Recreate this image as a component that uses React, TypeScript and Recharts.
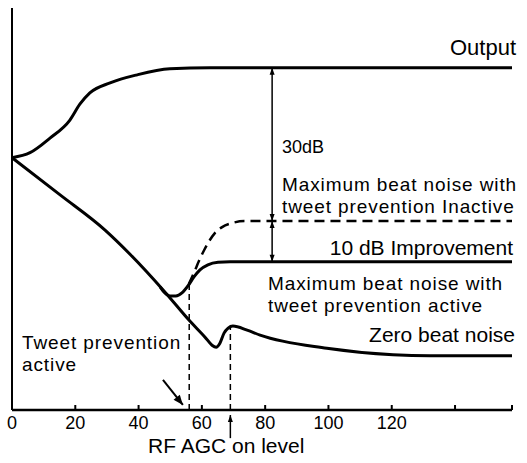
import { LineChart, Line, XAxis, YAxis, ReferenceLine } from "recharts"

// x = RF input level, y = relative level (dB)
const xTicks = [0, 20, 40, 60, 80, 100, 120, 140, 158]
const lastLabeledTick = 120

const outputX = [0, 5.7, 12, 18.3, 21.5, 24.6, 31, 39.5, 49.9, 62.6, 158]
const outputY = [50.2, 51.2, 54.1, 57.7, 60.9, 63.1, 65.1, 66.7, 67.9, 68.1, 68.1]

const zeroBeatX = [0, 15.2, 29.4, 37.3, 48.3, 56.2, 61, 63.2, 64.5, 65.7, 67, 68.3, 69.8, 74.3, 78.4, 99.5, 120.4, 132.1, 158]
const zeroBeatY = [50.2, 42.8, 35.8, 31, 23.5, 17.7, 14.5, 12.9, 12.5, 13.3, 15.3, 16.3, 16.7, 15.9, 14.9, 12.3, 11, 10.8, 10.8]

const activeX = [46.8, 48.3, 49.9, 51.8, 53.7, 55.6, 57.5, 59.4, 61.9, 65.1, 68.9, 158]
const activeY = [24.5, 23.3, 22.7, 22.7, 23.3, 24.7, 26.5, 27.9, 28.9, 29.4, 29.5, 29.5]

const inactiveX = [55.9, 57.5, 59.1, 60.7, 62.3, 64.1, 66.4, 69.5, 73.6, 158]
const inactiveY = [25.1, 27.3, 29.7, 31.8, 33.6, 35.2, 36.4, 37.2, 37.6, 37.6]

const tweetX = 56
const tweetTop = 25
const agcX = 69
const agcTop = 16.6
const measureX = 82.2
const outputLevel = 68.1
const inactiveLevel = 37.6
const activeLevel = 29.5

const toPoints = (xs: number[], ys: number[]) => xs.map((x, i) => ({ x, y: ys[i] }))

const outputData = toPoints(outputX, outputY)
const zeroBeatData = toPoints(zeroBeatX, zeroBeatY)
const activeData = toPoints(activeX, activeY)
const inactiveData = toPoints(inactiveX, inactiveY)

const font = "'Liberation Sans', Arial, Helvetica, sans-serif"

function head(x1: number, y1: number, x2: number, y2: number, len: number, half: number) {
  const dx = x2 - x1
  const dy = y2 - y1
  const d = Math.sqrt(dx * dx + dy * dy) || 1
  const ux = dx / d
  const uy = dy / d
  const bx = x2 - ux * len
  const by = y2 - uy * len
  return `${x2},${y2} ${bx - uy * half},${by + ux * half} ${bx + uy * half},${by - ux * half}`
}

const arrowShape = (both: boolean, len: number, half: number, width: number) => (p: any) => (
  <g>
    <line x1={p.x1} y1={p.y1} x2={p.x2} y2={p.y2} stroke="#000" strokeWidth={width} />
    <polygon points={head(p.x1, p.y1, p.x2, p.y2, len, half)} fill="#000" />
    {both && <polygon points={head(p.x2, p.y2, p.x1, p.y1, len, half)} fill="#000" />}
  </g>
)

const XTick = (props: any) => {
  const { x, y, payload } = props
  return (
    <g>
      <line x1={x} x2={x} y1={y} y2={y - 5} stroke="#000" strokeWidth={2} />
      {payload.value <= lastLabeledTick && (
        <text x={x} y={y + 19} textAnchor="middle" fontSize={18} fontFamily={font} fill="#000">
          {payload.value}
        </text>
      )}
    </g>
  )
}

const labelStyle = { fontFamily: font, fontSize: 21, fill: "#000" }
const smallLabel = { fontFamily: font, fontSize: 19, letterSpacing: 0.9, fill: "#000" }

export default function App() {
  return (
    <div style={{ position: "absolute", left: 0, top: 0, width: 527, height: 463, background: "#fff" }}>
      <LineChart width={527} height={463} margin={{ top: 8, right: 15, bottom: 13, left: 11 }}>
        <XAxis
          type="number"
          dataKey="x"
          domain={[0, 158]}
          ticks={xTicks}
          tickSize={0}
          tickMargin={0}
          tickLine={false}
          tick={<XTick />}
          height={40}
          axisLine={{ stroke: "#000", strokeWidth: 2.5 }}
          interval={0}
        />
        <YAxis
          type="number"
          dataKey="y"
          domain={[0, 80]}
          width={1}
          tick={false}
          tickLine={false}
          axisLine={{ stroke: "#000", strokeWidth: 2 }}
        />
        <ReferenceLine segment={[{ x: tweetX, y: 0 }, { x: tweetX, y: tweetTop }]} stroke="#000" strokeWidth={1.5} strokeDasharray="6 4" />
        <ReferenceLine segment={[{ x: agcX, y: 0 }, { x: agcX, y: agcTop }]} stroke="#000" strokeWidth={1.5} strokeDasharray="6 4" />
        <Line data={outputData} dataKey="y" type="monotone" stroke="#000" strokeWidth={3} dot={false} activeDot={false} isAnimationActive={false} />
        <Line data={zeroBeatData} dataKey="y" type="monotone" stroke="#000" strokeWidth={3} dot={false} activeDot={false} isAnimationActive={false} />
        <Line data={activeData} dataKey="y" type="monotone" stroke="#000" strokeWidth={3} dot={false} activeDot={false} isAnimationActive={false} />
        <Line data={inactiveData} dataKey="y" type="monotone" stroke="#000" strokeWidth={2.5} strokeDasharray="10 6" dot={false} activeDot={false} isAnimationActive={false} />
        <ReferenceLine
          segment={[{ x: measureX, y: outputLevel }, { x: measureX, y: inactiveLevel }]}
          shape={arrowShape(true, 7, 2.5, 1.5)}
        />
        <ReferenceLine
          segment={[{ x: measureX, y: inactiveLevel }, { x: measureX, y: activeLevel }]}
          shape={arrowShape(true, 7, 2.5, 1.5)}
        />
        <ReferenceLine
          segment={[{ x: 47.7, y: 6 }, { x: 54, y: 1 }]}
          ifOverflow="visible"
          shape={arrowShape(false, 10, 4, 2)}
        />
        <ReferenceLine
          segment={[{ x: agcX, y: -5.6 }, { x: agcX, y: -1 }]}
          ifOverflow="visible"
          shape={arrowShape(false, 7, 2.5, 1.5)}
        />
        <text x={516} y={55} textAnchor="end" {...labelStyle} fontSize={22}>Output</text>
        <text x={282} y={153} {...labelStyle} fontSize={18}>30dB</text>
        <text x={282} y={191} {...smallLabel}>Maximum beat noise with</text>
        <text x={282} y={213} {...smallLabel}>tweet prevention Inactive</text>
        <text x={513} y={255} textAnchor="end" {...labelStyle}>10 dB Improvement</text>
        <text x={268} y={290} {...smallLabel}>Maximum beat noise with</text>
        <text x={268} y={312} {...smallLabel}>tweet prevention active</text>
        <text x={515} y={342} textAnchor="end" {...labelStyle}>Zero beat noise</text>
        <text x={22} y={349} {...smallLabel}>Tweet prevention</text>
        <text x={22} y={371} {...smallLabel}>active</text>
        <text x={148} y={453} {...labelStyle}>RF AGC on level</text>
      </LineChart>
    </div>
  )
}
